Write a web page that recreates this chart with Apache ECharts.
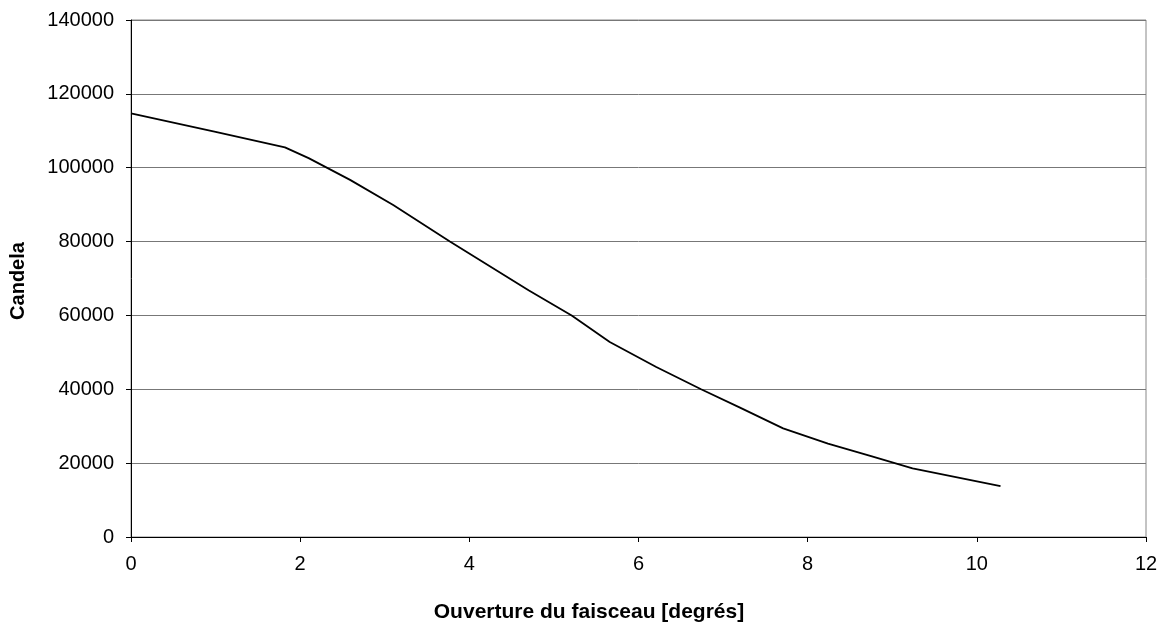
<!DOCTYPE html>
<html>
<head>
<meta charset="utf-8">
<script src="https://cdn.jsdelivr.net/npm/echarts@6/dist/echarts.min.js"></script>
<style>
html,body{margin:0;padding:0;background:#fff;}
#chart{width:1168px;height:628px;}
</style>
</head>
<body>
<div id="chart"></div>
<script>
// Beam opening angle (degrees) and luminous intensity (candela)
const angles = [0, 1.0, 1.82, 2.1, 2.59, 3.1, 3.77, 4.7, 5.21, 5.66, 6.21, 6.74, 7.2, 7.71, 8.24, 8.75, 9.24, 10.28];
const candela = [114700, 109700, 105500, 102600, 96700, 89900, 80000, 66800, 60000, 52800, 46050, 40000, 35050, 29400, 25300, 21900, 18600, 13800];
const xTitle = 'Ouverture du faisceau [degrés]';
const yTitle = 'Candela';

const chart = echarts.init(document.getElementById('chart'), null, {renderer: 'canvas'});
const font = '"Liberation Sans", Arial, Helvetica, sans-serif';
const data = angles.map((a, i) => [a, candela[i]]);

chart.setOption({
  animation: false,
  backgroundColor: '#ffffff',
  grid: {left: 131, top: 20, width: 1015, height: 517, show: true, borderColor: '#888888', borderWidth: 1, backgroundColor: 'transparent'},
  xAxis: {
    type: 'value', min: 0, max: 12, interval: 2,
    axisLine: {show: true, lineStyle: {color: '#000', width: 1}},
    axisTick: {show: true, inside: false, length: 5, lineStyle: {color: '#000'}},
    axisLabel: {color: '#000', fontFamily: font, fontSize: 20, margin: 17, formatter: v => String(v)},
    splitLine: {show: false}
  },
  yAxis: {
    type: 'value', min: 0, max: 140000, interval: 20000,
    axisLine: {show: true, lineStyle: {color: '#000', width: 1}},
    axisTick: {show: true, inside: false, length: 5, lineStyle: {color: '#000'}},
    axisLabel: {color: '#000', fontFamily: font, fontSize: 20, margin: 17, formatter: v => String(v)},
    splitLine: {show: true, lineStyle: {color: '#777777', width: 1}}
  },
  graphic: [
    {type: 'text', x: 589, y: 612, style: {text: xTitle, font: 'bold 21px ' + font, fill: '#000', align: 'center', verticalAlign: 'middle'}},
    {type: 'text', x: 18, y: 281, rotation: Math.PI / 2, style: {text: yTitle, font: 'bold 20px ' + font, fill: '#000', align: 'center', verticalAlign: 'middle'}}
  ],
  series: [{
    type: 'line', data: data, showSymbol: false, smooth: false,
    lineStyle: {color: '#000', width: 1.8}
  }]
});
</script>
</body>
</html>
